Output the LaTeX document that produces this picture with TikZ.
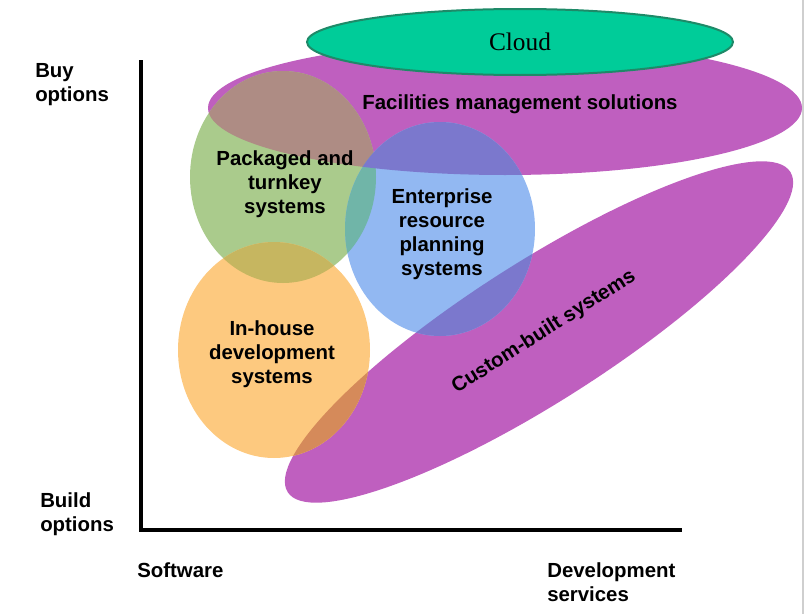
\documentclass[tikz,border=0pt]{standalone}
\usepackage{fontspec}
\setmainfont{Liberation Sans}
\newfontfamily\cloudfont{Liberation Serif}
\usepackage{tikz}
\usetikzlibrary{shapes.geometric, positioning}
\usepackage{xcolor}
\definecolor{SourceMagenta}{HTML}{BF5FBF}
\definecolor{SourceGreen}{HTML}{AACB8C}
\definecolor{SourceBlue}{HTML}{92B8F2}
\definecolor{SourceOrange}{HTML}{FDC97F}
\definecolor{CloudFill}{HTML}{00CC99}
\definecolor{CloudLine}{HTML}{1E8A68}
\definecolor{MixGreenMagenta}{HTML}{AE8C84}
\definecolor{MixGreenBlue}{HTML}{70B5A8}
\definecolor{MixGreenOrange}{HTML}{C6B660}
\definecolor{MixBlueMagenta}{HTML}{7B78CD}
\definecolor{MixOrangeMagenta}{HTML}{D58A5A}
\definecolor{FrameGray}{HTML}{CFCFCF}

% region outlines (pixel units)
\newcommand{\facpath}{(505,108) ellipse [x radius=297, y radius=67]}
\newcommand{\pkgpath}{(283,177) ellipse [x radius=93, y radius=106]}
\newcommand{\erppath}{(440,229) ellipse [x radius=95, y radius=107]}
\newcommand{\housepath}{(274,350) ellipse [x radius=96, y radius=108]}
\newcommand{\custpath}{[rotate around={32.5:(539,332)}] (539,332) ellipse [x radius=298, y radius=70]}

\tikzset{
  regiontext/.style={font=\bfseries\fontsize{15.3}{18}\selectfont, align=center, inner sep=0pt},
  axistext/.style={regiontext, align=left, anchor=west},
  cloudshape/.style={ellipse, draw=CloudLine, line width=1.5pt, fill=CloudFill,
    minimum width=319.5pt, minimum height=49.5pt, inner sep=0pt,
    font=\cloudfont\fontsize{19}{22}\selectfont}
}

\begin{document}
\begin{tikzpicture}[x=0.75pt, y=-0.75pt]
    \useasboundingbox (0,0) rectangle (804,614);

    % Axes
    \draw[line width=2.7pt] (141,60) -- (141,530) -- (682,530);
    \draw[FrameGray, line width=1.2pt] (803,0) -- (803,614);

    % Regions
    \fill[SourceMagenta] \facpath;
    \fill[SourceMagenta] \custpath;
    \fill[SourceGreen] \pkgpath;
    \fill[SourceBlue] \erppath;
    \fill[SourceOrange] \housepath;

    % Overlaps
    \begin{scope}
        \clip \pkgpath;
        \fill[MixGreenMagenta] \facpath;
        \fill[MixGreenBlue] \erppath;
        \fill[MixGreenOrange] \housepath;
    \end{scope}
    \begin{scope}
        \clip \erppath;
        \fill[MixBlueMagenta] \facpath;
        \fill[MixBlueMagenta] \custpath;
    \end{scope}
    \begin{scope}
        \clip \housepath;
        \fill[MixOrangeMagenta] \custpath;
    \end{scope}

    % Cloud
    \node[cloudshape] (cloud) at (520,42) {Cloud};

    % Labels
    \node[regiontext] (fac) at (520,104) {Facilities management solutions};
    \node[regiontext] (pkg) at (285,184) {Packaged and\\turnkey\\systems};
    \node[regiontext] (erp) at (442,234) {Enterprise\\resource\\planning\\systems};
    \node[regiontext] (house) at (272,354) {In-house\\development\\systems};
    \node[regiontext, rotate=32.5] (cust) at (544,332) {Custom-built systems};

    % Axis labels
    \node[axistext] (buylbl) at (35,85) {Buy\\options};
    \node[axistext] (buildlbl) at (40,514) {Build\\options};
    \node[axistext] (swlbl) at (137,570) {Software};
    \node[axistext] (devlbl) at (547,582) {Development\\services};
\end{tikzpicture}
\end{document}
